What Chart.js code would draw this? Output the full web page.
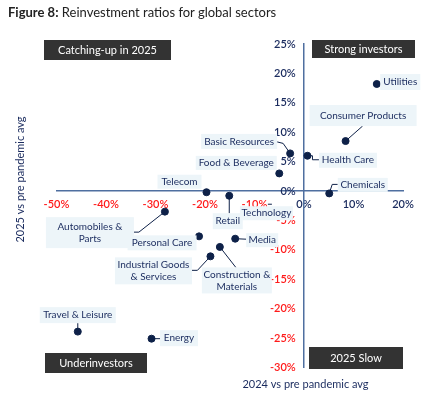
<!DOCTYPE html>
<html>
<head>
<meta charset="utf-8">
<script src="https://cdn.jsdelivr.net/npm/chart.js@4.4.1/dist/chart.umd.min.js"></script>
<style>
  html, body { margin: 0; padding: 0; background: #fff; }
  #wrap { position: relative; width: 428px; height: 397px; }
  #chart { position: absolute; left: 0; top: 0; }
  #title { position: absolute; left: 8px; top: 4px; font: 13px Lato, sans-serif; color: #222; white-space: nowrap; }
</style>
</head>
<body>
<div id="wrap">
  <canvas id="chart" width="428" height="397"></canvas>
  <div id="title"><b>Figure 8:</b> Reinvestment ratios for global sectors</div>
</div>
<script>
// ---- data ----
const sectors = ['Utilities', 'Consumer Products', 'Health Care', 'Basic Resources', 'Food & Beverage',
  'Chemicals', 'Telecom', 'Retail', 'Technology', 'Automobiles & Parts', 'Personal Care', 'Media',
  'Construction & Materials', 'Industrial Goods & Services', 'Travel & Leisure', 'Energy'];
const vs2024 = [14.7, 8.4, 0.7, -2.8, -5.0, 5.1, -19.7, -15.1, -8.1, -28.1, -21.2, -13.9, -17.0, -18.9, -45.7, -30.8];
const vs2025 = [18.2, 8.5, 6.0, 6.4, 3.0, -0.4, -0.2, -0.8, -3.6, -3.5, -7.7, -8.1, -9.5, -11.1, -23.9, -25.1];
const xTickValues = [-50, -40, -30, -20, -10, 0, 10, 20];
const yTickValues = [-30, -25, -20, -15, -10, -5, 0, 5, 10, 15, 20, 25];

// label boxes, placed relative to each point (pixels)
const labelLayout = {
  'Utilities':                  { dx: 3.5, dy: -10, w: 40, h: 16, lines: ['Utilities'] },
  'Consumer Products':          { dx: -36, dy: -36, w: 107, h: 21, lines: ['Consumer Products'], link: [[0, 0], [17, -15]] },
  'Health Care':                { dx: 11.5, dy: -3, w: 58, h: 15, lines: ['Health Care'], link: [[0, 0], [5, 0], [5, 4], [11.5, 4]] },
  'Basic Resources':            { dx: -89, dy: -19.5, w: 76, h: 15, lines: ['Basic Resources'], link: [[0, 0], [-7, -10], [-13, -11.5]] },
  'Food & Beverage':            { dx: -83.5, dy: -17.5, w: 81, h: 14, lines: ['Food & Beverage'] },
  'Chemicals':                  { dx: 8.5, dy: -15.5, w: 50, h: 14, lines: ['Chemicals'], link: [[0, 0], [3, -9], [8.5, -9]] },
  'Telecom':                    { dx: -49, dy: -17.5, w: 44, h: 14, lines: ['Telecom'] },
  'Retail':                     { dx: -16.5, dy: 17.5, w: 30, h: 16, lines: ['Retail'], link: [[0, 0], [0, 17.5]] },
  'Technology':                 { dx: -24, dy: -6, w: 53, h: 14, lines: ['Technology'], link: [[4, -8], [8, -8]] },
  'Automobiles & Parts':        { dx: -119, dy: 5.5, w: 88, h: 31, lines: ['Automobiles &', 'Parts'], link: [[0, 0], [-26, 20.5], [-31, 20.5]] },
  'Personal Care':              { dx: -71.5, dy: -1, w: 69, h: 15, lines: ['Personal Care'] },
  'Media':                      { dx: 11, dy: -5.5, w: 32, h: 14, lines: ['Media'], link: [[0, 0], [11, 0.5]] },
  'Construction & Materials':   { dx: -18, dy: 20.5, w: 70, h: 26, lines: ['Construction &', 'Materials'], link: [[0, 0], [16, 20.5]] },
  'Industrial Goods & Services':{ dx: -95.5, dy: 1, w: 77, h: 27, lines: ['Industrial Goods', '& Services'], link: [[0, 0], [-13, 14], [-18.5, 14]] },
  'Travel & Leisure':           { dx: -38, dy: -24.5, w: 76, h: 16, lines: ['Travel & Leisure'], link: [[0, 0], [0, -8.5]] },
  'Energy':                     { dx: 8.5, dy: -8.5, w: 38, h: 16, lines: ['Energy'], link: [[0, 0], [8.5, 0]] }
};

const quadrantBoxes = [
  { text: 'Catching-up in 2025', x: 44, y: 40, w: 127, h: 20 },
  { text: 'Strong investors', x: 312, y: 40, w: 103, h: 18 },
  { text: 'Underinvestors', x: 45, y: 353, w: 102, h: 20 },
  { text: '2025 Slow', x: 309, y: 347, w: 94, h: 22 }
];

const NAVY = '#1a2b5e';
const DOT = '#0e2148';
const AXIS = '#4f6fa0';
const FONT = 'Lato, sans-serif';

const tickColor = ctx => (ctx.tick && ctx.tick.value < 0) ? '#ff1a1a' : NAVY;

// sector labels + quadrant boxes + axis titles
const annotations = {
  id: 'annotations',
  afterDatasetsDraw(chart) {
    const ctx = chart.ctx;
    const xs = chart.scales.x, ys = chart.scales.y;
    ctx.save();
    sectors.forEach((name, i) => {
      const L = labelLayout[name];
      if (!L) return;
      const px = xs.getPixelForValue(vs2024[i]);
      const py = ys.getPixelForValue(vs2025[i]);
      if (L.link) {
        ctx.strokeStyle = DOT;
        ctx.lineWidth = 1;
        ctx.beginPath();
        L.link.forEach((p, k) => k ? ctx.lineTo(px + p[0], py + p[1]) : ctx.moveTo(px + p[0], py + p[1]));
        ctx.stroke();
      }
      ctx.fillStyle = '#edf5f9';
      ctx.fillRect(px + L.dx, py + L.dy, L.w, L.h);
      ctx.fillStyle = NAVY;
      ctx.font = '10px ' + FONT;
      ctx.textAlign = 'center';
      ctx.textBaseline = 'middle';
      const lh = 12;
      const cy = py + L.dy + L.h / 2 - (L.lines.length - 1) * lh / 2;
      L.lines.forEach((t, k) => ctx.fillText(t, px + L.dx + L.w / 2, cy + k * lh));
    });

    quadrantBoxes.forEach(q => {
      ctx.fillStyle = '#333333';
      ctx.fillRect(q.x, q.y, q.w, q.h);
      ctx.fillStyle = '#fff';
      ctx.font = '11px ' + FONT;
      ctx.textAlign = 'center';
      ctx.textBaseline = 'middle';
      ctx.fillText(q.text, q.x + q.w / 2, q.y + q.h / 2 + 0.5);
    });

    ctx.fillStyle = NAVY;
    ctx.font = '11px ' + FONT;
    ctx.textAlign = 'center';
    ctx.textBaseline = 'middle';
    ctx.fillText('2024 vs pre pandemic avg', 305.5, 384);
    ctx.translate(20, 179.5);
    ctx.rotate(-Math.PI / 2);
    ctx.fillText('2025 vs pre pandemic avg', 0, 0);
    ctx.restore();
  }
};

new Chart(document.getElementById('chart'), {
  type: 'scatter',
  data: {
    datasets: [{
      data: sectors.map((s, i) => ({ x: vs2024[i], y: vs2025[i] })),
      backgroundColor: DOT,
      borderColor: DOT,
      pointRadius: 3.5,
      pointHoverRadius: 3.5
    }]
  },
  options: {
    responsive: false,
    animation: false,
    layout: { padding: { left: 56.5, right: 25, top: 44, bottom: 29.5 } },
    plugins: { legend: { display: false }, tooltip: { enabled: false } },
    scales: {
      x: {
        type: 'linear', min: -50, max: 20, position: { y: 0 }, z: 1,
        afterBuildTicks: s => { s.ticks = xTickValues.map(v => ({ value: v })); },
        grid: { display: false, drawTicks: false },
        border: { display: true, color: AXIS, width: 1.5 },
        ticks: { padding: 7, color: tickColor, font: { family: FONT, size: 11, weight: '600' }, callback: v => v + '%', maxRotation: 0 }
      },
      y: {
        type: 'linear', min: -30, max: 25, position: { x: 0 }, z: 1,
        afterBuildTicks: s => { s.ticks = yTickValues.map(v => ({ value: v })); },
        grid: { display: false, drawTicks: false },
        border: { display: true, color: AXIS, width: 1.5 },
        // axis sits inside the plot, so the gap to the line is made with an em space
        ticks: { color: tickColor, font: { family: FONT, size: 11, weight: '600' }, callback: v => v + '%\u2003' }
      }
    }
  },
  plugins: [annotations]
});
</script>
</body>
</html>
